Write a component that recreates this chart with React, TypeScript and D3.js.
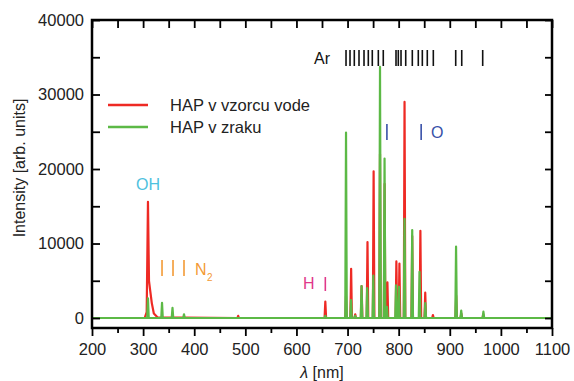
import { useRef, useEffect } from "react";
import * as d3 from "d3";

// peaks: [wavelength nm, intensity]
const redPeaks: [number, number][] = [
  [486, 300],
  [656.5, 2200],
  [697, 3000],
  [707, 6600],
  [715, 500],
  [727.5, 4300],
  [739, 10200],
  [751, 19700],
  [763.5, 22000],
  [772.5, 18000],
  [778, 4800],
  [795.5, 7600],
  [801.5, 7300],
  [811.5, 29000],
  [826.5, 11000],
  [842.5, 11700],
  [852, 3400],
  [867, 400],
  [912.5, 3000],
  [922.5, 600],
  [965.5, 500],
];

// the OH band of the red spectrum, with its tail
const redOH: [number, number][] = [
  [303, 0],
  [307, 800],
  [309.5, 15600],
  [311.5, 5000],
  [314, 3600],
  [317, 2000],
  [321, 600],
  [328, 100],
];

const greenPeaks: [number, number][] = [
  [309.5, 2650],
  [337, 2050],
  [357.5, 1380],
  [380, 500],
  [656.5, 300],
  [697, 24900],
  [706.7, 2400],
  [714.7, 300],
  [727.3, 4300],
  [738.4, 4000],
  [750.4, 5700],
  [763.5, 33700],
  [772.4, 21400],
  [777, 1500],
  [794.8, 4400],
  [800.6, 4200],
  [811.5, 13300],
  [826.5, 11800],
  [840.8, 6200],
  [852.1, 2000],
  [912.3, 9600],
  [922.4, 1000],
  [965.8, 850],
];

// Ar line marks at the top
const arLines = [
  697, 704.8, 713.2, 722.4, 732.2, 740.6, 748.4, 760.2, 769.9, 794.8, 799.3,
  804.6, 813.8, 826.7, 838.4, 846.3, 856, 867.8, 911.6, 923.4, 964.4,
];
const n2Lines = [337, 358.5, 380];
const hLine = [656.5];
const oLines = [777, 844];

const xTicks = [200, 300, 400, 500, 600, 700, 800, 900, 1000, 1100];
const xMinor = [250, 350, 450, 550, 650, 750, 850, 950, 1050];
const yTicks = [0, 10000, 20000, 30000, 40000];
const yMinor = [5000, 15000, 25000, 35000];

const legend = [
  { label: "HAP v vzorcu vode", color: "#ee2a24" },
  { label: "HAP v zraku", color: "#5cb946" },
];

function sticks(peaks: [number, number][], extra: [number, number][] = []) {
  const pts: [number, number][] = [[200, 0]];
  const all = [...peaks];
  all.sort((a, b) => a[0] - b[0]);
  let extraDone = extra.length === 0;
  for (const [nm, v] of all) {
    if (!extraDone && nm > extra[0][0]) {
      pts.push(...extra);
      extraDone = true;
    }
    pts.push([nm - 1.5, 0], [nm, v], [nm + 1.5, 0]);
  }
  pts.push([1100, 0]);
  return pts;
}

const font = "'Liberation Sans', Arial, sans-serif";

const App = () => {
  const ref = useRef<SVGSVGElement>(null);

  useEffect(() => {
    document.body.style.margin = "0";
    const svg = d3.select(ref.current);
    svg.selectAll("*").remove();

    const left = 92,
      right = 552,
      top = 20,
      bottom = 328;
    const x = d3.scaleLinear().domain([200, 1100]).range([left, right]);
    const y = d3.scaleLinear().domain([-1340, 40000]).range([bottom, top]);

    const line = d3
      .line<[number, number]>()
      .x((d) => x(d[0]))
      .y((d) => y(d[1]));

    const plot = svg.append("g");
    plot
      .append("path")
      .attr("d", line(sticks(redPeaks, redOH)))
      .attr("fill", "none")
      .attr("stroke", legend[0].color)
      .attr("stroke-width", 2.2)
      .attr("stroke-linejoin", "round");
    plot
      .append("path")
      .attr("d", line(sticks(greenPeaks)))
      .attr("fill", "none")
      .attr("stroke", legend[1].color)
      .attr("stroke-width", 2.2)
      .attr("stroke-linejoin", "round");

    // axes
    const styleAxis = (g: any) => {
      g.select(".domain").remove();
      g.selectAll("line").attr("stroke", "#000").attr("stroke-width", 1.8);
      g.selectAll("text")
        .attr("font-family", font)
        .attr("font-size", 16.5)
        .attr("fill", "#222");
    };

    svg
      .append("g")
      .attr("transform", `translate(0,${bottom})`)
      .call(d3.axisBottom(x).tickValues(xTicks).tickSize(8).tickPadding(7).tickFormat(d3.format("d")))
      .call(styleAxis);
    svg
      .append("g")
      .attr("transform", `translate(0,${bottom})`)
      .call(d3.axisBottom(x).tickValues(xMinor).tickSize(5).tickFormat(() => ""))
      .call(styleAxis);
    svg
      .append("g")
      .attr("transform", `translate(0,${top})`)
      .call(d3.axisTop(x).tickValues([...xTicks, ...xMinor]).tickSize(-8).tickFormat(() => ""))
      .call(styleAxis);
    svg
      .append("g")
      .attr("transform", `translate(${left},0)`)
      .call(d3.axisLeft(y).tickValues(yTicks).tickSize(-8).tickPadding(8).tickFormat(d3.format("d")))
      .call(styleAxis);
    svg
      .append("g")
      .attr("transform", `translate(${left},0)`)
      .call(d3.axisLeft(y).tickValues(yMinor).tickSize(-8).tickFormat(() => ""))
      .call(styleAxis);
    svg
      .append("g")
      .attr("transform", `translate(${right},0)`)
      .call(d3.axisRight(y).tickValues([...yTicks, ...yMinor]).tickSize(-7).tickFormat(() => ""))
      .call(styleAxis);

    svg
      .append("rect")
      .attr("x", left)
      .attr("y", top)
      .attr("width", right - left)
      .attr("height", bottom - top)
      .attr("fill", "none")
      .attr("stroke", "#000")
      .attr("stroke-width", 2.5);

    // axis titles
    svg
      .append("text")
      .attr("transform", `translate(25,${(top + bottom) / 2 - 6}) rotate(-90)`)
      .attr("text-anchor", "middle")
      .attr("font-family", font)
      .attr("font-size", 16)
      .attr("fill", "#222")
      .text("Intensity [arb. units]");
    const xt = svg
      .append("text")
      .attr("x", (left + right) / 2)
      .attr("y", 378)
      .attr("text-anchor", "middle")
      .attr("font-family", font)
      .attr("font-size", 16)
      .attr("fill", "#222");
    xt.append("tspan").attr("font-style", "italic").text("λ");
    xt.append("tspan").text(" [nm]");

    // legend
    legend.forEach((d, i) => {
      const ly = 105 + i * 22;
      svg
        .append("line")
        .attr("x1", 108)
        .attr("x2", 148)
        .attr("y1", ly)
        .attr("y2", ly)
        .attr("stroke", d.color)
        .attr("stroke-width", 2.5);
      svg
        .append("text")
        .attr("x", 170)
        .attr("y", ly + 6)
        .attr("font-family", font)
        .attr("font-size", 16.5)
        .attr("fill", "#222")
        .text(d.label);
    });

    // line annotations
    const marks = (nms: number[], y1: number, y2: number, color: string) => {
      svg
        .append("g")
        .selectAll("line")
        .data(nms)
        .join("line")
        .attr("x1", (d) => x(d))
        .attr("x2", (d) => x(d))
        .attr("y1", y1)
        .attr("y2", y2)
        .attr("stroke", color)
        .attr("stroke-width", 1.6);
    };
    const label = (t: string, tx: number, ty: number, color: string, size = 16) =>
      svg
        .append("text")
        .attr("x", tx)
        .attr("y", ty)
        .attr("font-family", font)
        .attr("font-size", size)
        .attr("fill", color)
        .text(t);

    marks(arLines, 50, 66, "#111");
    label("Ar", 314, 64, "#111");

    label("OH", 136, 190, "#4ec1de");

    marks(n2Lines, 260, 276, "#f39a35");
    label("N", 195, 275, "#f39a35");
    label("2", 207, 281, "#f39a35", 10);

    marks(hLine, 277, 291, "#e0388a");
    label("H", 303, 289, "#e0388a");

    marks(oLines, 124, 140, "#3850a8");
    label("O", 431, 138, "#3850a8");
  }, []);

  return <svg ref={ref} width={574} height={381} style={{ display: "block" }} />;
};

export default App;
